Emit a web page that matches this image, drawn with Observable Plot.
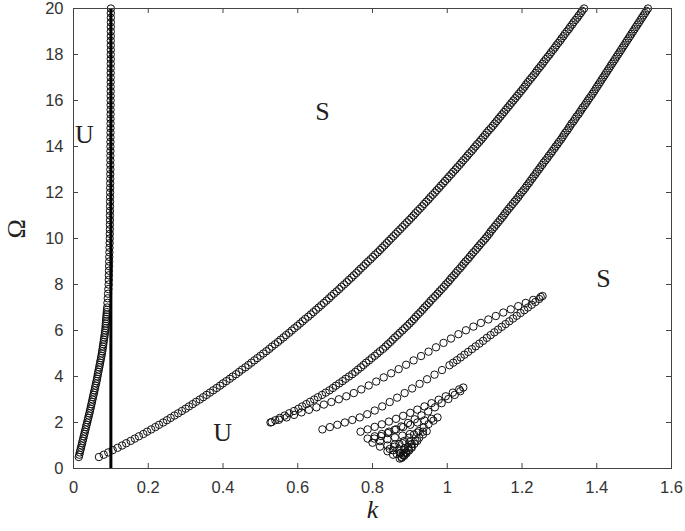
<!DOCTYPE html>
<html><head><meta charset="utf-8">
<script src="https://cdn.jsdelivr.net/npm/d3@7"></script>
<script src="https://cdn.jsdelivr.net/npm/@observablehq/plot@0.6"></script>
<style>html,body{margin:0;padding:0;background:#fff}svg{display:block}</style>
</head><body><div id="chart"></div>
<script>
// axis ticks
const xTicks = [0, 0.2, 0.4, 0.6, 0.8, 1, 1.2, 1.4, 1.6];
const yTicks = [0, 2, 4, 6, 8, 10, 12, 14, 16, 18, 20];
// vertical boundary k = 0.1
const boundaryK = [0.1];
// region labels
const regionText = ["U", "S", "U", "S"];
const regionK = [0.029, 0.666, 0.399, 1.418];
const regionOmega = [14.5, 15.5, 1.55, 8.25];

// branches, [k, Omega]
const branchA = [[0.014,0.5],[0.0155,0.6],[0.017,0.7],[0.0185,0.8],[0.020,0.9],[0.0215,1.0],[0.023,1.1],[0.0245,1.2],[0.026,1.3],[0.0275,1.4],[0.029,1.5],[0.0305,1.6],[0.032,1.7],[0.0335,1.8],[0.035,1.9],[0.0365,2.0],[0.038,2.1],[0.0395,2.2],[0.041,2.3],[0.0425,2.4],[0.044,2.5],[0.0454,2.6],[0.0467,2.7],[0.0481,2.8],[0.0494,2.9],[0.0508,3.0],[0.0521,3.1],[0.0535,3.2],[0.0549,3.3],[0.0562,3.4],[0.0576,3.5],[0.0589,3.6],[0.0603,3.7],[0.0616,3.8],[0.063,3.9],[0.064,4.0],[0.0652,4.1],[0.0664,4.2],[0.0676,4.3],[0.0688,4.4],[0.070,4.5],[0.0712,4.6],[0.0724,4.7],[0.0736,4.8],[0.0748,4.9],[0.076,5.0],[0.0769,5.1],[0.0778,5.2],[0.0787,5.3],[0.0796,5.4],[0.0805,5.5],[0.0814,5.6],[0.0823,5.7],[0.0832,5.8],[0.0841,5.9],[0.085,6.0],[0.0855,6.1],[0.086,6.2],[0.0865,6.3],[0.087,6.4],[0.0875,6.5],[0.088,6.6],[0.0885,6.7],[0.089,6.8],[0.0895,6.9],[0.090,7.0],[0.0908,7.2],[0.0916,7.4],[0.0924,7.6],[0.0932,7.8],[0.094,8.0],[0.0943,8.2],[0.0946,8.4],[0.0949,8.6],[0.0952,8.8],[0.0955,9.0],[0.0958,9.2],[0.0961,9.4],[0.0964,9.6],[0.0967,9.8],[0.097,10.0],[0.0971,10.2],[0.0973,10.4],[0.0974,10.6],[0.0975,10.8],[0.0976,11.0],[0.0977,11.2],[0.0978,11.4],[0.0979,11.6],[0.098,11.8],[0.0981,12.0],[0.0982,12.2],[0.0983,12.4],[0.0984,12.6],[0.0985,12.8],[0.0986,13.0],[0.0986,13.2],[0.0987,13.4],[0.0987,13.6],[0.0988,13.8],[0.0988,14.0],[0.0989,14.2],[0.0989,14.4],[0.099,14.6],[0.099,14.8],[0.0991,15.0],[0.0991,15.2],[0.0992,15.4],[0.0992,15.6],[0.0993,15.8],[0.0993,16.0],[0.0993,16.2],[0.0994,16.4],[0.0994,16.6],[0.0994,16.8],[0.0995,17.0],[0.0995,17.2],[0.0995,17.4],[0.0996,17.6],[0.0996,17.8],[0.0996,18.0],[0.0997,18.2],[0.0997,18.4],[0.0997,18.6],[0.0998,18.8],[0.0998,19.0],[0.0998,19.2],[0.0999,19.4],[0.0999,19.6],[0.0999,19.8],[0.1,20.0]];

const branchB = [[0.068,0.5],[0.081,0.6],[0.093,0.7],[0.105,0.8],[0.118,0.9],[0.130,1.0],[0.141,1.1],[0.153,1.2],[0.164,1.3],[0.175,1.4],[0.187,1.5],[0.197,1.6],[0.208,1.7],[0.219,1.8],[0.229,1.9],[0.240,2.0],[0.250,2.1],[0.260,2.2],[0.270,2.3],[0.280,2.4],[0.290,2.5],[0.300,2.6],[0.309,2.7],[0.319,2.8],[0.328,2.9],[0.338,3.0],[0.347,3.1],[0.356,3.2],[0.365,3.3],[0.374,3.4],[0.383,3.5],[0.392,3.6],[0.400,3.7],[0.409,3.8],[0.418,3.9],[0.426,4.0],[0.435,4.1],[0.443,4.2],[0.451,4.3],[0.460,4.4],[0.468,4.5],[0.476,4.6],[0.484,4.7],[0.492,4.8],[0.500,4.9],[0.508,5.0],[0.516,5.1],[0.524,5.2],[0.531,5.3],[0.539,5.4],[0.547,5.5],[0.554,5.6],[0.562,5.7],[0.569,5.8],[0.577,5.9],[0.584,6.0],[0.591,6.1],[0.599,6.2],[0.606,6.3],[0.613,6.4],[0.620,6.5],[0.628,6.6],[0.635,6.7],[0.642,6.8],[0.649,6.9],[0.656,7.0],[0.663,7.1],[0.670,7.2],[0.677,7.3],[0.684,7.4],[0.690,7.5],[0.697,7.6],[0.704,7.7],[0.711,7.8],[0.717,7.9],[0.724,8.0],[0.731,8.1],[0.737,8.2],[0.744,8.3],[0.750,8.4],[0.757,8.5],[0.763,8.6],[0.769,8.7],[0.776,8.8],[0.782,8.9],[0.788,9.0],[0.795,9.1],[0.801,9.2],[0.807,9.3],[0.814,9.4],[0.820,9.5],[0.826,9.6],[0.832,9.7],[0.838,9.8],[0.844,9.9],[0.850,10.0],[0.856,10.1],[0.862,10.2],[0.868,10.3],[0.874,10.4],[0.880,10.5],[0.886,10.6],[0.892,10.7],[0.898,10.8],[0.904,10.9],[0.910,11.0],[0.915,11.1],[0.921,11.2],[0.927,11.3],[0.933,11.4],[0.938,11.5],[0.944,11.6],[0.950,11.7],[0.955,11.8],[0.961,11.9],[0.967,12.0],[0.972,12.1],[0.978,12.2],[0.983,12.3],[0.989,12.4],[0.994,12.5],[1.000,12.6],[1.005,12.7],[1.011,12.8],[1.016,12.9],[1.022,13.0],[1.027,13.1],[1.033,13.2],[1.038,13.3],[1.043,13.4],[1.049,13.5],[1.054,13.6],[1.059,13.7],[1.065,13.8],[1.070,13.9],[1.075,14.0],[1.080,14.1],[1.086,14.2],[1.091,14.3],[1.096,14.4],[1.101,14.5],[1.106,14.6],[1.111,14.7],[1.117,14.8],[1.122,14.9],[1.127,15.0],[1.132,15.1],[1.137,15.2],[1.142,15.3],[1.147,15.4],[1.152,15.5],[1.157,15.6],[1.162,15.7],[1.167,15.8],[1.172,15.9],[1.177,16.0],[1.182,16.1],[1.187,16.2],[1.192,16.3],[1.197,16.4],[1.202,16.5],[1.207,16.6],[1.211,16.7],[1.216,16.8],[1.221,16.9],[1.226,17.0],[1.231,17.1],[1.236,17.2],[1.240,17.3],[1.245,17.4],[1.250,17.5],[1.255,17.6],[1.259,17.7],[1.264,17.8],[1.269,17.9],[1.274,18.0],[1.278,18.1],[1.283,18.2],[1.288,18.3],[1.292,18.4],[1.297,18.5],[1.302,18.6],[1.306,18.7],[1.311,18.8],[1.315,18.9],[1.320,19.0],[1.325,19.1],[1.329,19.2],[1.334,19.3],[1.338,19.4],[1.343,19.5],[1.348,19.6],[1.352,19.7],[1.357,19.8],[1.361,19.9],[1.366,20.0]];

const branchC = [[0.527,2.0],[0.540,2.1],[0.552,2.2],[0.565,2.3],[0.577,2.4],[0.590,2.5],[0.602,2.6],[0.612,2.7],[0.623,2.8],[0.633,2.9],[0.644,3.0],[0.654,3.1],[0.665,3.2],[0.675,3.3],[0.685,3.4],[0.694,3.5],[0.702,3.6],[0.711,3.7],[0.720,3.8],[0.728,3.9],[0.737,4.0],[0.746,4.1],[0.754,4.2],[0.761,4.3],[0.769,4.4],[0.776,4.5],[0.783,4.6],[0.791,4.7],[0.798,4.8],[0.806,4.9],[0.813,5.0],[0.820,5.1],[0.828,5.2],[0.835,5.3],[0.841,5.4],[0.848,5.5],[0.854,5.6],[0.860,5.7],[0.867,5.8],[0.873,5.9],[0.880,6.0],[0.886,6.1],[0.893,6.2],[0.899,6.3],[0.905,6.4],[0.911,6.5],[0.916,6.6],[0.922,6.7],[0.928,6.8],[0.934,6.9],[0.939,7.0],[0.945,7.1],[0.951,7.2],[0.956,7.3],[0.962,7.4],[0.968,7.5],[0.974,7.6],[0.979,7.7],[0.985,7.8],[0.991,7.9],[0.996,8.0],[1.002,8.1],[1.007,8.2],[1.012,8.3],[1.018,8.4],[1.023,8.5],[1.028,8.6],[1.034,8.7],[1.039,8.8],[1.044,8.9],[1.049,9.0],[1.055,9.1],[1.060,9.2],[1.065,9.3],[1.070,9.4],[1.076,9.5],[1.081,9.6],[1.086,9.7],[1.091,9.8],[1.097,9.9],[1.102,10.0],[1.107,10.1],[1.112,10.2],[1.116,10.3],[1.121,10.4],[1.126,10.5],[1.131,10.6],[1.136,10.7],[1.141,10.8],[1.146,10.9],[1.151,11.0],[1.155,11.1],[1.160,11.2],[1.165,11.3],[1.170,11.4],[1.175,11.5],[1.180,11.6],[1.185,11.7],[1.190,11.8],[1.194,11.9],[1.199,12.0],[1.204,12.1],[1.209,12.2],[1.213,12.3],[1.218,12.4],[1.222,12.5],[1.227,12.6],[1.231,12.7],[1.236,12.8],[1.240,12.9],[1.245,13.0],[1.249,13.1],[1.254,13.2],[1.258,13.3],[1.263,13.4],[1.268,13.5],[1.272,13.6],[1.277,13.7],[1.281,13.8],[1.286,13.9],[1.290,14.0],[1.295,14.1],[1.299,14.2],[1.304,14.3],[1.308,14.4],[1.312,14.5],[1.316,14.6],[1.321,14.7],[1.325,14.8],[1.329,14.9],[1.333,15.0],[1.338,15.1],[1.342,15.2],[1.346,15.3],[1.351,15.4],[1.355,15.5],[1.359,15.6],[1.363,15.7],[1.368,15.8],[1.372,15.9],[1.376,16.0],[1.380,16.1],[1.385,16.2],[1.389,16.3],[1.393,16.4],[1.397,16.5],[1.401,16.6],[1.405,16.7],[1.409,16.8],[1.413,16.9],[1.417,17.0],[1.421,17.1],[1.425,17.2],[1.429,17.3],[1.433,17.4],[1.437,17.5],[1.441,17.6],[1.445,17.7],[1.449,17.8],[1.453,17.9],[1.457,18.0],[1.461,18.1],[1.465,18.2],[1.469,18.3],[1.473,18.4],[1.477,18.5],[1.481,18.6],[1.485,18.7],[1.489,18.8],[1.493,18.9],[1.497,19.0],[1.501,19.1],[1.505,19.2],[1.509,19.3],[1.513,19.4],[1.517,19.5],[1.521,19.6],[1.525,19.7],[1.529,19.8],[1.533,19.9],[1.537,20.0]];

// closed tongue 1
const tongue1Upper = [[0.53,2.02],[0.55,2.12],[0.57,2.22],[0.59,2.33],[0.61,2.44],[0.63,2.55],[0.65,2.66],[0.67,2.78],[0.69,2.89],[0.71,3.01],[0.73,3.14],[0.75,3.28],[0.77,3.44],[0.79,3.61],[0.81,3.78],[0.83,3.96],[0.85,4.14],[0.87,4.32],[0.89,4.51],[0.91,4.70],[0.93,4.89],[0.95,5.08],[0.97,5.27],[0.99,5.46],[1.01,5.65],[1.03,5.84],[1.05,6.01],[1.07,6.17],[1.09,6.33],[1.11,6.48],[1.13,6.63],[1.15,6.78],[1.17,6.92],[1.19,7.06],[1.21,7.20],[1.23,7.33],[1.25,7.46]];
const tongue1Lower = [[0.666,1.70],[0.686,1.80],[0.706,1.90],[0.726,2.00],[0.746,2.11],[0.766,2.22],[0.786,2.36],[0.806,2.52],[0.826,2.70],[0.846,2.89],[0.866,3.08],[0.886,3.28],[0.906,3.48],[0.926,3.68],[0.946,3.88],[0.966,4.08],[0.986,4.28],[1.006,4.49],[1.016,4.60],[1.026,4.71],[1.036,4.83],[1.046,4.95],[1.056,5.07],[1.066,5.19],[1.076,5.31],[1.086,5.43],[1.096,5.55],[1.106,5.68],[1.116,5.80],[1.126,5.92],[1.136,6.04],[1.146,6.16],[1.156,6.28],[1.166,6.40],[1.176,6.52],[1.186,6.64],[1.196,6.76],[1.206,6.88],[1.216,7.00],[1.226,7.12],[1.236,7.24],[1.246,7.37],[1.255,7.50]];
// smaller tongues near the bottom
const tongue2 = [[0.768,1.60],[0.787,1.70],[0.806,1.81],[0.825,1.92],[0.844,2.04],[0.863,2.16],[0.882,2.29],[0.901,2.42],[0.920,2.56],[0.939,2.70],[0.958,2.84],[0.977,2.99],[0.996,3.14],[1.015,3.30],[1.032,3.44],[1.043,3.52],[1.035,3.36],[1.020,3.20],[1.003,3.02],[0.985,2.84],[0.967,2.66],[0.949,2.48],[0.931,2.31],[0.913,2.14],[0.895,1.98],[0.877,1.83],[0.859,1.68],[0.841,1.54],[0.823,1.41],[0.805,1.30]];
const tongue3 = [[0.787,1.30],[0.806,1.40],[0.825,1.50],[0.844,1.60],[0.863,1.70],[0.882,1.80],[0.901,1.90],[0.920,2.00],[0.939,2.09],[0.958,2.16],[0.974,2.22],[0.963,2.08],[0.950,1.93],[0.937,1.78],[0.924,1.63],[0.911,1.48],[0.898,1.34],[0.885,1.20],[0.872,1.07],[0.859,0.95],[0.846,0.85]];
const tongue4 = [[0.80,1.12],[0.82,1.19],[0.84,1.27],[0.86,1.35],[0.88,1.43],[0.90,1.50],[0.92,1.56],[0.935,1.60],[0.945,1.62],[0.935,1.48],[0.925,1.34],[0.915,1.20],[0.905,1.06],[0.895,0.93],[0.885,0.80],[0.875,0.68]];
const tongue5 = [[0.82,0.95],[0.84,1.00],[0.86,1.05],[0.88,1.10],[0.90,1.15],[0.92,1.20],[0.912,1.07],[0.904,0.94],[0.896,0.81],[0.889,0.69],[0.882,0.57]];
const tongue6 = [[0.84,0.75],[0.855,0.79],[0.87,0.83],[0.885,0.87],[0.905,0.90],[0.898,0.78],[0.891,0.66],[0.885,0.55],[0.878,0.46]];
const tongue7 = [[0.855,0.60],[0.865,0.63],[0.875,0.66],[0.888,0.70],[0.882,0.60],[0.878,0.50],[0.873,0.43]];

const branches = [branchA, branchB, branchC, tongue1Upper, tongue1Lower, tongue2, tongue3, tongue4, tongue5, tongue6, tongue7];
const points = branches.flatMap((b, j) => b.map(([k, omega]) => ({k, omega, branch: j})));

const W = 685, H = 531, mL = 73, mR = 14, mT = 8, mB = 63;
const innerW = W - mL - mR, innerH = H - mT - mB;
const axisColor = "#444";
const serif = "'Liberation Serif', 'Times New Roman', serif";

const chart = Plot.plot({
  width: W, height: H,
  marginLeft: mL, marginRight: mR, marginTop: mT, marginBottom: mB,
  x: {domain: [0, 1.6]},
  y: {domain: [0, 20]},
  style: {fontFamily: "'Liberation Sans', Arial, Helvetica, sans-serif", background: "#fff", color: "#333"},
  marks: [
    Plot.dot(points, {x: "k", y: "omega", r: 3.7, stroke: "#111", strokeWidth: 1, fill: "none"}),
    Plot.ruleX(boundaryK, {x: d => d, stroke: "#000", strokeWidth: 3}),
    Plot.frame({stroke: axisColor, strokeWidth: 1}),
    Plot.tickX(xTicks, {x: d => d, insetTop: innerH - 5, stroke: axisColor}),
    Plot.tickX(xTicks, {x: d => d, insetBottom: innerH - 5, stroke: axisColor}),
    Plot.tickY(yTicks, {y: d => d, insetRight: innerW - 5, stroke: axisColor}),
    Plot.tickY(yTicks, {y: d => d, insetLeft: innerW - 5, stroke: axisColor}),
    Plot.axisX({ticks: xTicks, tickSize: 0, tickPadding: 13, fontSize: 16.5, label: null, color: "#333", tickFormat: d => String(d)}),
    Plot.axisY({ticks: yTicks, tickSize: 0, tickPadding: 10, fontSize: 16.5, label: null, color: "#333", tickFormat: d => String(d)}),
    Plot.text(regionText, {x: regionK, y: regionOmega, text: d => d, fontFamily: serif, fontSize: 26, fill: "#222"}),
    Plot.text(["k"], {frameAnchor: "bottom", dy: 49, text: d => d, fontFamily: serif, fontStyle: "italic", fontSize: 26, fill: "#222"}),
    Plot.text(["Ω"], {frameAnchor: "left", dx: -57, rotate: -90, text: d => d, fontFamily: serif, fontSize: 26, fill: "#222"})
  ]
});
document.getElementById("chart").appendChild(chart);
</script>
</body></html>
